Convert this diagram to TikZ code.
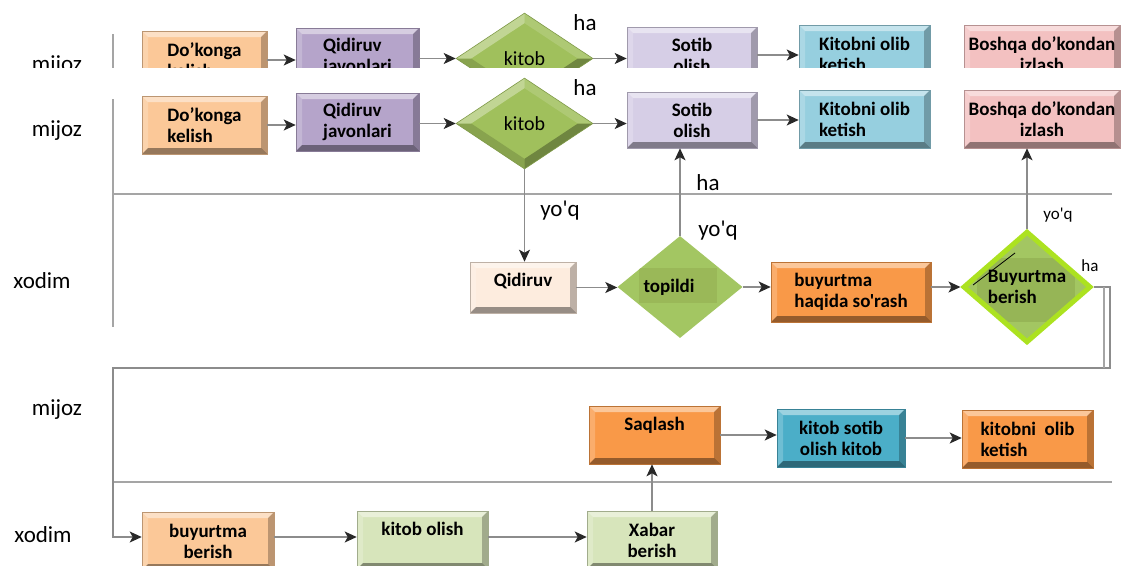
\documentclass[tikz,border=0pt]{standalone}
\usepackage{fontspec}
\setmainfont{Carlito}[Ligatures=TeXOff]
\usepackage{tikz}
\usetikzlibrary{arrows.meta, shapes.geometric}
\definecolor{peach}{RGB}{251,200,152}
\definecolor{lavender}{RGB}{181,164,202}
\definecolor{lightlav}{RGB}{214,206,230}
\definecolor{skyblue}{RGB}{150,207,223}
\definecolor{pinkbox}{RGB}{243,193,193}
\definecolor{kgreen}{RGB}{160,192,92}
\definecolor{tgreen}{RGB}{163,198,98}
\definecolor{lime}{RGB}{172,226,32}
\definecolor{cream}{RGB}{253,236,222}
\definecolor{orangebox}{RGB}{249,153,72}
\definecolor{tealbox}{RGB}{75,174,200}
\definecolor{palegreen}{RGB}{215,229,187}
\definecolor{lanegray}{RGB}{165,165,165}
\definecolor{linegray}{RGB}{140,140,140}
\definecolor{tipdark}{RGB}{40,40,40}
\newcommand{\boxfont}{\fontsize{19}{21}\selectfont\bfseries}
\newcommand{\lanefont}{\fontsize{23}{26}\selectfont}
\newcommand{\smallfont}{\fontsize{17}{19}\selectfont}

\tikzset{
  bevel/.style={path picture={
    \def\bvw{6pt}
    \path (path picture bounding box.north west) coordinate (q1)
          (path picture bounding box.north east) coordinate (q2)
          (path picture bounding box.south east) coordinate (q3)
          (path picture bounding box.south west) coordinate (q4);
    \fill[white,opacity=.45] (q1) -- (q2) -- ([shift={(-\bvw,-\bvw)}]q2) -- ([shift={(\bvw,-\bvw)}]q1) -- cycle;
    \fill[white,opacity=.2] (q1) -- ([shift={(\bvw,-\bvw)}]q1) -- ([shift={(\bvw,\bvw)}]q4) -- (q4) -- cycle;
    \fill[black,opacity=.25] (q2) -- (q3) -- ([shift={(-\bvw,\bvw)}]q3) -- ([shift={(-\bvw,-\bvw)}]q2) -- cycle;
    \fill[black,opacity=.4] (q4) -- (q3) -- ([shift={(-\bvw,\bvw)}]q3) -- ([shift={(\bvw,\bvw)}]q4) -- cycle;
  }},
  dbevel/.style={path picture={
    \def\dvw{15pt}\def\dvh{10pt}
    \path (path picture bounding box.north) coordinate (dn)
          (path picture bounding box.east) coordinate (de)
          (path picture bounding box.south) coordinate (ds)
          (path picture bounding box.west) coordinate (dw);
    \fill[white,opacity=.35] (dw) -- (dn) -- ([yshift=-\dvh]dn) -- ([xshift=\dvw]dw) -- cycle;
    \fill[white,opacity=.15] (dn) -- (de) -- ([xshift=-\dvw]de) -- ([yshift=-\dvh]dn) -- cycle;
    \fill[black,opacity=.3] (de) -- (ds) -- ([yshift=\dvh]ds) -- ([xshift=-\dvw]de) -- cycle;
    \fill[black,opacity=.15] (ds) -- (dw) -- ([xshift=\dvw]dw) -- ([yshift=\dvh]ds) -- cycle;
  }},
  box/.style={rectangle,draw=#1!75!black,fill=#1,line width=.6pt,bevel,
    font=\boxfont,align=center,inner sep=0pt,minimum height=58pt},
  lab/.style={font=\lanefont,inner sep=0pt},
  labsmall/.style={font=\smallfont,inner sep=0pt},
  lane/.style={draw=lanegray,line width=1.6pt},
  arrow/.style={-{Stealth[length=12pt,width=11pt,inset=3pt,color=tipdark]},
    draw=linegray,line width=1.5pt}
}

% mijoz lane of the first chart
\newcommand{\mijozlane}{%
  \draw[lane] (113,99) -- (113,327);
  \node[lab] (mijoz1) at (57,131) {mijoz};
  \node[box=peach,align=left,minimum width=125pt] (dokon) at (204.5,125) {Do’konga\\kelish};
  \node[box=lavender,align=left,minimum width=123pt] (javon) at (357.5,122) {Qidiruv\\javonlari};
  \node[diamond,fill=kgreen,draw=kgreen!80!black,line width=.6pt,dbevel,inner sep=0pt,
    minimum width=137pt,minimum height=91pt,font=\fontsize{20}{22}\selectfont] (kitob) at (524.5,123.5) {kitob};
  \node[box=lightlav,minimum width=130pt,minimum height=56pt] (sotib) at (692,120) {Sotib\\olish};
  \node[box=skyblue,align=left,minimum width=131pt] (olib) at (864.5,119) {Kitobni olib\\ketish};
  \node[box=pinkbox,minimum width=156pt] (boshqa) at (1042,119) {Boshqa do’kondan\\izlash};
  \node[lab] (ha1) at (585,88) {ha};
  \draw[arrow] (dokon.east) -- (dokon.east -| javon.west);
  \draw[arrow] (javon.east |- kitob.west) -- (kitob.west);
  \draw[arrow] (kitob.east) -- (kitob.east -| sotib.west);
  \draw[arrow] (sotib.east) -- (sotib.east -| olib.west);
}

\begin{document}
\begin{tikzpicture}[x=1pt,y=-1pt]
\useasboundingbox (0,0) rectangle (1124,565);
\clip (0,0) rectangle (1124,565);

% cut-off copy at the top
\begin{scope}
  \clip (0,0) rectangle (1124,67);
  \begin{scope}[yshift=65pt]
    \mijozlane
  \end{scope}
\end{scope}

\mijozlane
\draw[lane] (113,194) -- (1112,194);

% xodim lane
\node[lab] (xodim1) at (42,281) {xodim};
\node[box=cream,minimum width=106pt,minimum height=51pt,text height=13pt,text depth=15pt] (qidir) at (523,287.5) {Qidiruv};
\node[diamond,fill=tgreen,inner sep=0pt,minimum width=125pt,minimum height=102pt,font=\boxfont,
  path picture={\fill[kgreen!96!black] ([shift={(-41pt,-16pt)}]path picture bounding box.center)
    rectangle ([shift={(37pt,19pt)}]path picture bounding box.center);}] (topildi) at (680,287) {topildi\kern22pt};
\node[box=orangebox,align=left,minimum width=160pt,minimum height=60pt] (sorash) at (851,292) {buyurtma\\haqida so'rash};
\node[diamond,fill=tgreen,draw=lime,line width=5pt,inner sep=0pt,minimum width=128pt,minimum height=101pt,
  font=\boxfont,align=left,
  path picture={\fill[kgreen!94!black] ([shift={(-50pt,-35pt)}]path picture bounding box.center)
    rectangle ([shift={(48pt,29pt)}]path picture bounding box.center);
    \draw[black,line width=.8pt] ([shift={(-54pt,2pt)}]path picture bounding box.center)
    -- ([shift={(-12pt,34pt)}]path picture bounding box.center);}] (berish) at (1027,287) {Buyurtma\\berish};

\node[lab] (yoq1) at (560,211) {yo'q};
\node[lab] (ha2) at (708,183) {ha};
\node[lab] (yoq2) at (718,231) {yo'q};
\node[labsmall] (yoq3) at (1058,215) {yo'q};
\node[labsmall] (ha3) at (1090,266) {ha};

\draw[arrow] (kitob.south) -- (kitob.south |- qidir.north);
\draw[arrow] (qidir.east) -- (qidir.east -| topildi.west);
\draw[arrow] (topildi.east) -- (topildi.east -| sorash.west);
\draw[arrow] (berish.west -| sorash.east) -- (berish.west);
\draw[arrow] (topildi.north) -- (topildi.north |- sotib.south);
\draw[arrow] (berish.north) -- (berish.north |- boshqa.south);

% second chart
\node[lab] (mijoz2) at (57,410) {mijoz};
\node[lab] (xodim2) at (43,535) {xodim};
\draw[lane] (113,482) -- (1112,482);
\node[box=orangebox,minimum width=131pt,text height=13pt,text depth=22pt] (saqlash) at (654.5,435) {Saqlash};
\node[box=tealbox,minimum width=128pt] (sotibkitob) at (841,438) {kitob sotib\\olish kitob};
\node[box=orangebox,align=left,minimum width=131pt] (olibket) at (1027.5,439) {kitobni\ \ olib\\ketish};
\node[box=peach,minimum width=132pt] (buyber) at (208,541) {buyurtma\\berish};
\node[box=palegreen,minimum width=131pt,text height=13pt,text depth=22pt] (kitobol) at (422.5,540) {kitob olish};
\node[box=palegreen,minimum width=130pt] (xabar) at (652,540) {Xabar\\berish};

\coordinate (rtop) at (1110,287);
\coordinate (rbot) at (1110,368);
\coordinate (lbot) at (113,368);
\draw[arrow] (berish.east) -- (rtop) -- (rbot) -- (lbot) |- ([yshift=4pt]buyber.west);
\draw[lane] (1104,287) -- (1104,368);

\draw[arrow] ([yshift=4pt]buyber.east) -- ([yshift=4pt]buyber.east -| kitobol.west);
\draw[arrow] ([yshift=3pt]kitobol.east) -- ([yshift=3pt]kitobol.east -| xabar.west);
\draw[arrow] (xabar.north) -- (xabar.north |- saqlash.south);
\draw[arrow] (saqlash.east) -- (saqlash.east -| sotibkitob.west);
\draw[arrow] (sotibkitob.east) -- (sotibkitob.east -| olibket.west);
\end{tikzpicture}
\end{document}
